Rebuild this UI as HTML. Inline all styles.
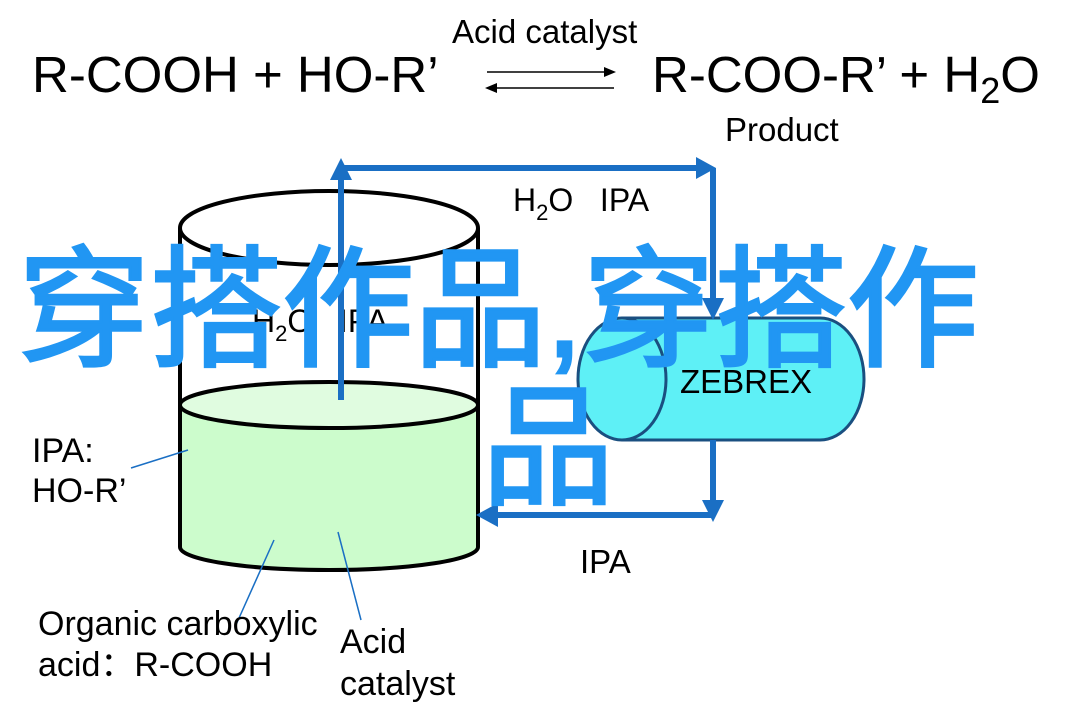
<!DOCTYPE html>
<html><head><meta charset="utf-8"><style>
html,body{margin:0;padding:0;background:#fff;}
svg{display:block;font-family:"Liberation Sans",Arial,sans-serif;}
.wm{position:absolute;font-family:"Liberation Sans","Noto Sans CJK SC",sans-serif;font-size:132px;line-height:132px;color:#2196f3;white-space:nowrap;-webkit-text-stroke:3px #2196f3;}
</style></head><body>
<div style="position:relative;width:1084px;height:724px;overflow:hidden">
<svg width="1084" height="724" viewBox="0 0 1084 724">
<g font-size="51" fill="#000">
<text x="32" y="92">R-COOH + HO-R’</text>
<text x="652" y="92">R-COO-R’ + H<tspan font-size="36" dy="11">2</tspan><tspan dy="-11">O</tspan></text>
</g>
<text x="452" y="43" font-size="33">Acid catalyst</text>
<text x="725" y="141" font-size="33">Product</text>
<g stroke="#000" stroke-width="1.5" fill="#000">
<line x1="487" y1="72" x2="612" y2="72"/><path d="M616,72 L604,67 L604,77z" stroke="none"/>
<line x1="489" y1="88" x2="614" y2="88"/><path d="M485,88 L497,83 L497,93z" stroke="none"/>
</g>
<path d="M180,405 L180,547 A149,23 0 0 0 478,547 L478,405 Z" fill="#ccfccc" stroke="#000" stroke-width="4"/>
<ellipse cx="329" cy="405" rx="149" ry="23" fill="#e0fce0" stroke="#000" stroke-width="4"/>
<line x1="180" y1="228" x2="180" y2="405" stroke="#000" stroke-width="4"/>
<line x1="478" y1="228" x2="478" y2="405" stroke="#000" stroke-width="4"/>
<ellipse cx="329" cy="228" rx="149" ry="37" fill="#fff" stroke="#000" stroke-width="4"/>
<text x="252" y="332" font-size="32">H<tspan font-size="22" dy="9">2</tspan><tspan dy="-9">O</tspan>&#160;&#160;&#160;IPA</text>
<path d="M622,318 L820,318 A44,61 0 0 1 820,440 L622,440 A44,61 0 0 1 622,318 Z" fill="#5ef0f6" stroke="#1a4f80" stroke-width="3"/>
<path d="M622,318 A44,61 0 0 1 622,440" fill="none" stroke="#1a4f80" stroke-width="3"/>
<text x="680" y="393" font-size="33">ZEBREX</text>
<g stroke="#1a6fc4" stroke-width="6" fill="none">
<polyline points="341,400 341,172"/>
<polyline points="341,168 700,168"/>
<polyline points="713,168 713,305"/>
<polyline points="713,440 713,505"/>
<polyline points="713,515 492,515"/>
</g>
<g fill="#1a6fc4">
<path d="M341,158 L330,180 L352,180z"/>
<path d="M716,168 L696,157 L696,179z"/>
<path d="M713,320 L702,298 L724,298z"/>
<path d="M713,522 L702,500 L724,500z"/>
<path d="M476,515 L498,503 L498,527z"/>
</g>
<text x="513" y="211" font-size="32">H<tspan font-size="22" dy="9">2</tspan><tspan dy="-9">O</tspan>&#160;&#160;&#160;IPA</text>
<text x="580" y="573" font-size="33">IPA</text>
<g stroke="#1a6fc4" stroke-width="1.5">
<line x1="131" y1="468" x2="188" y2="450"/>
<line x1="235" y1="627" x2="274" y2="540"/>
<line x1="361" y1="620" x2="338" y2="532"/>
</g>
<g font-size="34">
<text x="32" y="462">IPA:</text>
<text x="32" y="502">HO-R’</text>
<text x="38" y="635">Organic carboxylic</text>
<text x="38" y="676">acid：R-COOH</text>
<text x="340" y="653">Acid</text>
<text x="340" y="695">catalyst</text>
</g>
</svg>
<div class="wm" style="left:18px;top:245px;">穿搭作品,穿搭作</div>
<div class="wm" style="left:482px;top:383px;">品</div>
</div>
</body></html>
